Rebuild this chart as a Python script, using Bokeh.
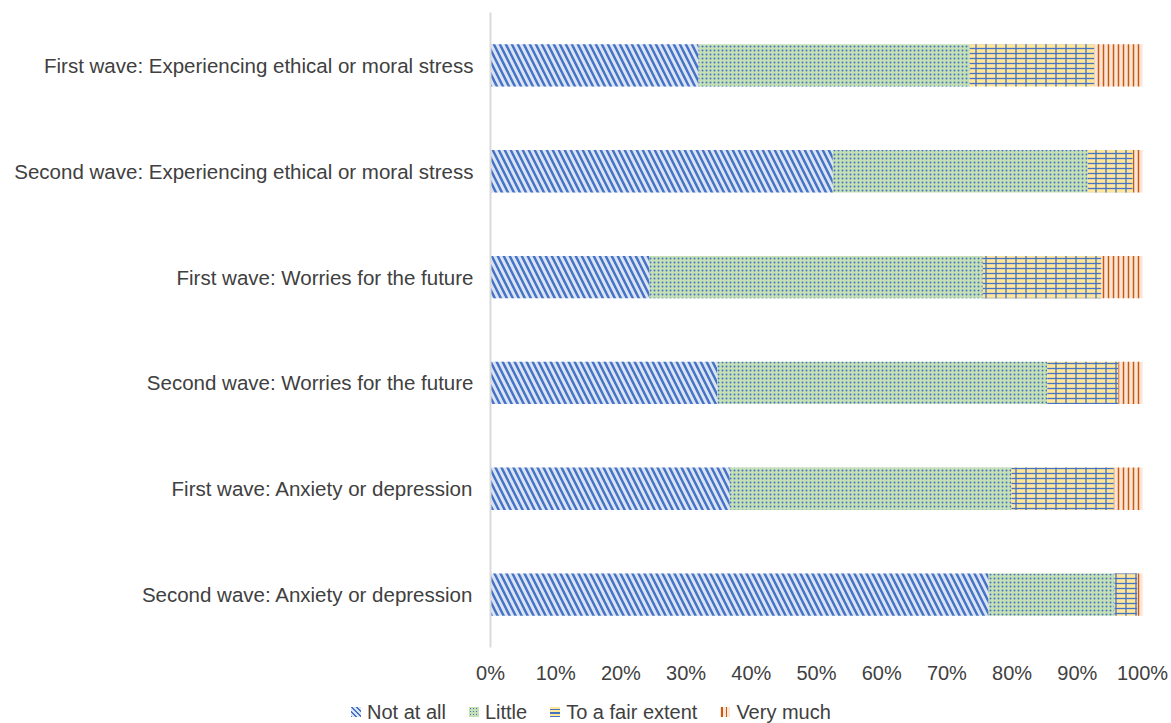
from bokeh.plotting import figure
from bokeh.layouts import column
from bokeh.models import (FactorRange, Range1d, FixedTicker, CustomJSTickFormatter,
                          ColumnDataSource, Div)
from bokeh.transform import stack
from bokeh.embed import file_html
from bokeh.resources import INLINE

categories = [
    "First wave: Experiencing ethical or moral stress",
    "Second wave: Experiencing ethical or moral stress",
    "First wave: Worries for the future",
    "Second wave: Worries for the future",
    "First wave: Anxiety or depression",
    "Second wave: Anxiety or depression",
]
series_names = ["Not at all", "Little", "To a fair extent", "Very much"]
not_at_all = [31.9, 52.5, 24.4, 34.8, 36.7, 76.4]
little = [41.6, 39.1, 51.1, 50.6, 43.2, 19.3]
fair_extent = [19.1, 6.9, 18.2, 10.9, 15.7, 3.5]
very_much = [7.4, 1.5, 6.3, 3.7, 4.4, 0.8]
tick_values = [0, 10, 20, 30, 40, 50, 60, 70, 80, 90, 100]

FONT = "Liberation Sans"
TEXT = "#404040"
BLUE = "#4472c4"

src = ColumnDataSource(dict(cat=categories, not_at_all=not_at_all, little=little,
                            fair=fair_extent, very=very_much))

p = figure(width=1171, height=686, output_backend="svg", toolbar_location=None,
           y_range=FactorRange(factors=categories[::-1], range_padding=0),
           x_range=Range1d(0, 100),
           min_border_left=490, min_border_right=29, min_border_top=12,
           min_border_bottom=38)
p.outline_line_color = None
p.xgrid.visible = False
p.ygrid.visible = False

p.hbar_stack(
    ["not_at_all", "little", "fair", "very"], y="cat", height=0.4, source=src,
    fill_color=["#dae3f3", "#c5e0b4", "#ffe699", "#fbe5d6"],
    hatch_pattern=["left_diagonal_line", "dot", "horizontal_line", "vertical_line"],
    hatch_color=[BLUE, BLUE, BLUE, "#c55a11"],
    hatch_scale=[12, 4, 5, 5],
    hatch_weight=[2.4, 1.0, 1.3, 1.5],
    hatch_alpha=[1.0, 1.0, 1.0, 1.0],
    line_color=None,
)
# vertical joints of the brick pattern
p.hbar(y="cat", left=stack("not_at_all", "little"),
       right=stack("not_at_all", "little", "fair"), height=0.4, source=src,
       fill_alpha=0, line_color=None, hatch_pattern="vertical_line",
       hatch_color=BLUE, hatch_scale=10, hatch_weight=1.3)

p.yaxis.axis_line_color = "#d9d9d9"
p.yaxis.axis_line_width = 2
p.yaxis.major_tick_line_color = None
p.yaxis.minor_tick_line_color = None
p.yaxis.major_label_text_font = FONT
p.yaxis.major_label_text_font_size = "20.5px"
p.yaxis.major_label_text_color = TEXT
p.yaxis.major_label_standoff = 11

p.xaxis.axis_line_color = None
p.xaxis.major_tick_line_color = None
p.xaxis.minor_tick_line_color = None
p.xaxis.ticker = FixedTicker(ticks=tick_values)
p.xaxis.formatter = CustomJSTickFormatter(code="return tick.toFixed(0) + '%';")
p.xaxis.major_label_text_font = FONT
p.xaxis.major_label_text_font_size = "20px"
p.xaxis.major_label_text_color = TEXT
p.xaxis.major_label_standoff = 8

icon_css = [
    "background:repeating-linear-gradient(45deg,#4472c4 0 1.4px,#dae3f3 1.4px 3.4px);",
    "background:radial-gradient(#4472c4 0.7px,transparent 1px) 0 0/3px 3px,#c5e0b4;",
    "background:repeating-linear-gradient(0deg,#4472c4 0 1.2px,#ffe699 1.2px 3.5px);",
    "background:repeating-linear-gradient(90deg,#fbe5d6 0 1.5px,#c55a11 1.5px 3px,#fbe5d6 3px 4.5px);",
]
item_html = "".join(
    f'<span style="display:inline-flex;align-items:center;margin-right:23px;">'
    f'<span style="display:inline-block;width:10px;height:10px;margin-right:6px;{css}"></span>'
    f'{name}</span>'
    for name, css in zip(series_names, icon_css)
)
legend_div = Div(
    text=(f'<div style="position:absolute;left:346px;top:10px;white-space:nowrap;'
          f'font-family:\'{FONT}\';font-size:20px;line-height:22px;color:{TEXT};'
          f'display:flex;align-items:center;">{item_html}</div>'),
    width=1171, height=37, styles={"position": "relative", "overflow": "hidden"},
)

layout = column(p, legend_div, spacing=0)
open("out.html", "w").write(file_html(layout, INLINE))
